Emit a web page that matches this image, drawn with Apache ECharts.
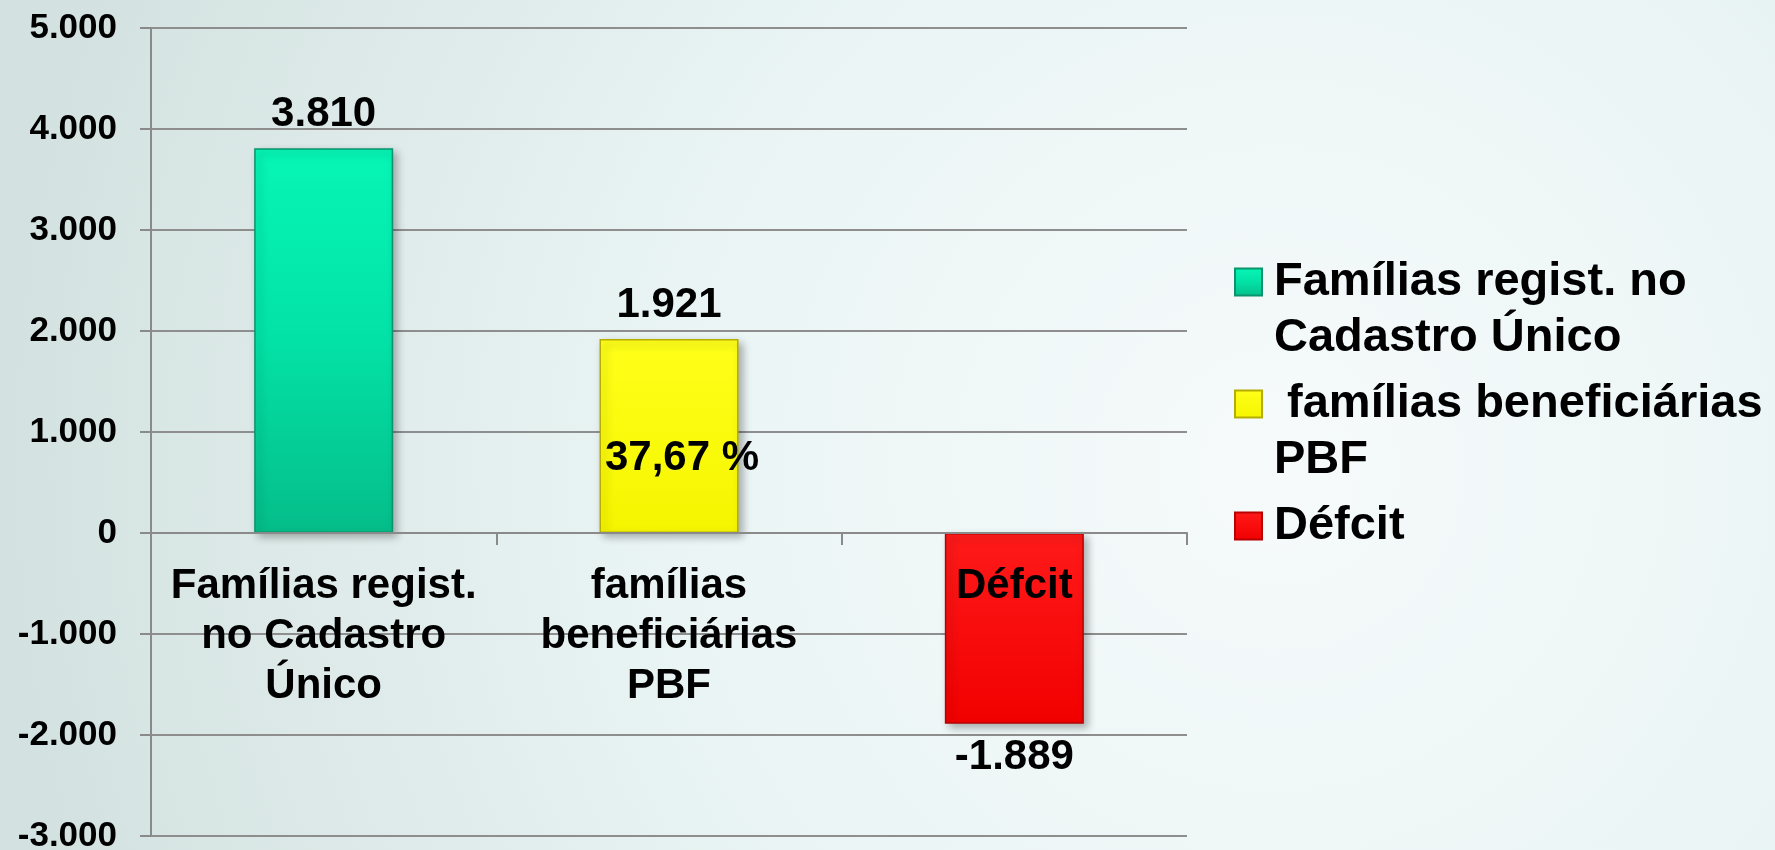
<!DOCTYPE html>
<html lang="pt">

<head>
  <meta charset="UTF-8">
  <title>Famílias - Cadastro Único</title>
  <script src="https://cdn.jsdelivr.net/npm/echarts@6/dist/echarts.min.js"></script>
  <style>
    html, body { margin: 0; padding: 0; }
  </style>
</head>

<body>
  <div id="chart" style="width: 1775px; height: 850px;"></div>
</body>
<script>
  // dados
  const categorias = ['Famílias regist.\nno Cadastro\nÚnico', 'famílias\nbeneficiárias\nPBF', 'Défcit']
  const nomesSeries = ['Famílias regist. no Cadastro Único', ' famílias beneficiárias PBF', 'Défcit']
  const nomesLegenda = ['Famílias regist. no\nCadastro Único', ' famílias beneficiárias\nPBF', 'Défcit']
  const valores = [3810, 1921, -1889]
  const percentual = ['37,67 %']
  const percentualY = [743] // altura do rótulo dentro da barra amarela
  const eixoY = [-3000, 5000, 1000]

  const fonte = 'Liberation Sans, Arial, sans-serif'
  const fmt = v => {
    let s = String(Math.abs(v)).replace(/\B(?=(\d{3})+(?!\d))/g, '.')
    return (v < 0 ? '-' : '') + s
  }

  const cores = [
    { type: 'linear', x: 0, y: 0, x2: 0, y2: 1, colorStops: [{ offset: 0, color: '#06f6b6' }, { offset: 0.5, color: '#03e2a6' }, { offset: 1, color: '#05bd89' }] },
    { type: 'linear', x: 0, y: 0, x2: 0, y2: 1, colorStops: [{ offset: 0, color: '#ffff1a' }, { offset: 1, color: '#f5f500' }] },
    { type: 'linear', x: 0, y: 0, x2: 0, y2: 1, colorStops: [{ offset: 0, color: '#ff1a1a' }, { offset: 1, color: '#f20000' }] }
  ]
  const bordas = ['#0b936d', '#b5ad00', '#b80000']

  // grade: 808px de altura para 8000 unidades -> zero fica 303px acima da base
  const gradeTopo = 28, gradeBase = 14
  const alturaGrade = 850 - gradeTopo - gradeBase
  const deslocZero = alturaGrade * (0 - eixoY[0]) / (eixoY[1] - eixoY[0])

  let myCharts = echarts.init(document.getElementById('chart'))

  let series = valores.map((v, i) => {
    let s = {
      name: nomesSeries[i],
      type: 'bar',
      barWidth: 139,
      barGap: '-100%',
      z: 2,
      data: valores.map((x, j) => j === i ? x : '-'),
      itemStyle: {
        color: cores[i],
        borderColor: bordas[i],
        borderWidth: 1.5,
        shadowBlur: 8,
        shadowOffsetX: 4,
        shadowOffsetY: 4,
        shadowColor: 'rgba(0,0,0,0.3)'
      },
      label: {
        show: true,
        position: v < 0 ? 'bottom' : 'top',
        distance: 13,
        formatter: p => fmt(p.value),
        fontFamily: fonte,
        fontWeight: 'bold',
        fontSize: 42,
        color: '#000'
      }
    }
    if (i === 1) {
      s.markPoint = {
        symbol: 'rect',
        symbolSize: 1,
        itemStyle: { color: 'transparent' },
        label: {
          show: true,
          position: 'inside',
          offset: [13, 0],
          formatter: () => percentual[0],
          fontFamily: fonte,
          fontWeight: 'bold',
          fontSize: 42,
          color: '#000'
        },
        data: [{ coord: [1, percentualY[0]] }]
      }
    }
    return s
  })

  // uma legenda por item; linha vazia acima para o ícone ficar na primeira linha
  const centros = [282, 404, 526]
  let legendas = nomesSeries.map((n, i) => {
    let linhas = nomesLegenda[i].split('\n').length
    let txt = linhas > 1 ? ' \n' + nomesLegenda[i] : nomesLegenda[i]
    let total = (linhas > 1 ? linhas + 1 : 1) * 56
    return {
      data: [n],
      left: 1234,
      top: centros[i] - total / 2,
      padding: 0,
      itemWidth: 27,
      itemHeight: 27,
      icon: 'rect',
      selectedMode: false,
      formatter: () => txt,
      textStyle: {
        fontFamily: fonte,
        fontWeight: 'bold',
        fontSize: 47,
        lineHeight: 56,
        color: '#000',
        padding: [0, 0, 0, 7]
      }
    }
  })

  let option = {
    animation: false,
    backgroundColor: {
      type: 'radial', x: 0.72, y: 0.55, r: 1.5,
      colorStops: [{ offset: 0, color: '#f6fafb' }, { offset: 0.45, color: '#ebf5f5' }, { offset: 1, color: '#d3e2e0' }]
    },
    grid: { left: 151, right: 588, top: gradeTopo, bottom: gradeBase, containLabel: false, outerBoundsMode: 'none' },
    legend: legendas,
    xAxis: {
      type: 'category',
      data: categorias,
      z: 5,
      position: 'bottom',
      offset: -deslocZero,
      axisLine: { onZero: false, lineStyle: { color: '#8a8a8a', width: 2 } },
      axisTick: { show: true, length: 12, lineStyle: { color: '#8a8a8a', width: 2 } },
      axisLabel: {
        interval: 0,
        margin: 28,
        fontFamily: fonte,
        fontWeight: 'bold',
        fontSize: 42,
        lineHeight: 50,
        color: '#000'
      }
    },
    yAxis: {
      type: 'value',
      min: eixoY[0],
      max: eixoY[1],
      interval: eixoY[2],
      axisLine: { show: true, lineStyle: { color: '#8a8a8a', width: 2 } },
      axisTick: { show: true, length: 11, lineStyle: { color: '#8a8a8a', width: 2 } },
      splitLine: { show: true, lineStyle: { color: '#8e8e8e', width: 2 } },
      axisLabel: {
        margin: 34,
        formatter: v => fmt(v),
        fontFamily: fonte,
        fontWeight: 'bold',
        fontSize: 35,
        color: '#000'
      }
    },
    series: series
  }
  myCharts.setOption(option)
</script>

</html>
